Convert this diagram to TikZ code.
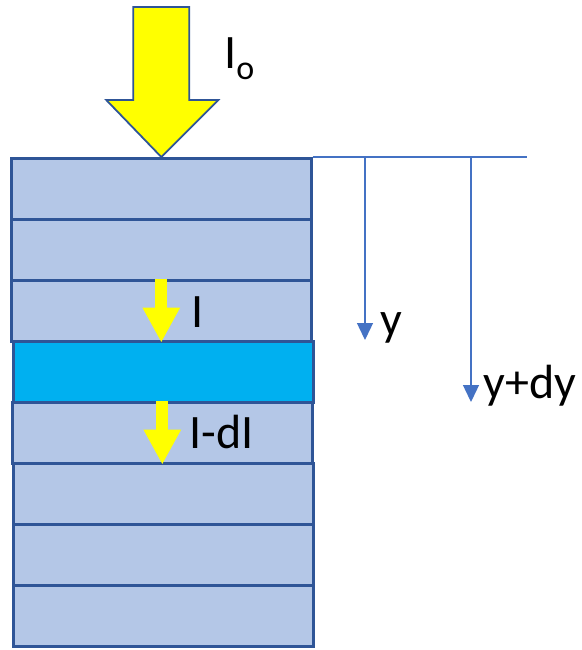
\documentclass[tikz,border=0pt]{standalone}
\usepackage{fontspec}
\setmainfont{Carlito}
\usepackage{tikz}
\usetikzlibrary{arrows.meta,positioning,calc}
\usepackage{xcolor}
\definecolor{slabFill}{HTML}{B4C7E7}
\definecolor{slabEdge}{HTML}{2F5597}
\definecolor{slabHot}{HTML}{00B0F0}
\definecolor{depthLine}{HTML}{4472C4}
\definecolor{beamYellow}{HTML}{FFFF00}
\tikzset{
  slab/.style={draw=slabEdge, fill=slabFill, line width=1.3pt, minimum width=150pt, minimum height=30.5pt, inner sep=0pt, anchor=north west},
  slabhot/.style={slab, fill=slabHot},
  beam/.style={draw=slabEdge, fill=beamYellow, line width=0.9pt, line join=miter},
  ray/.style={-{Triangle[length=17.5pt,width=17.5pt]}, line width=6pt, draw=beamYellow},
  depth/.style={-{Triangle[length=8.5pt,width=8pt]}, line width=0.7pt, draw=depthLine},
  lbl/.style={font=\fontsize{24}{28}\selectfont, inner sep=0pt, anchor=base west}
}
\begin{document}
\begin{tikzpicture}[x=0.5pt,y=-0.5pt]
  \useasboundingbox (0,0) rectangle (582,650);

  % stack of slabs
  \foreach \i/\top/\lx in {1/157/10,2/218/10,3/279/10,5/401/11,6/462/12,7/523/12,8/584/12}{
    \node[slab] (L\i) at (\lx,\top) {};
  }
  \node[slabhot] (L4) at (12,340) {};

  % incident beam
  \coordinate (tip) at (L1.north);
  \draw[beam] ($(tip)+(-28,-150)$) -- ($(tip)+(28,-150)$) -- ($(tip)+(28,-57)$) -- ($(tip)+(57,-57)$)
    -- (tip) -- ($(tip)+(-55,-57)$) -- ($(tip)+(-28,-57)$) -- cycle;
  \node[lbl] (Io) at (224,68) {I\raisebox{-5.5pt}{\fontsize{17}{17}\selectfont o}};

  % attenuated beam through the layers
  \draw[ray] (L3.north) -- (L3.south);
  \draw[ray] (L5.north) -- (L5.south);
  \node[lbl] (I) at (191,327) {I};
  \node[lbl] (IdI) at (189,448) {I-dI};

  % depth axis
  \coordinate (ref) at (527,157);
  \coordinate (yA) at (365,157);
  \coordinate (yB) at (471,157);
  \coordinate (yAend) at (365,340);
  \coordinate (yBend) at (471,402);
  \draw[depthLine, line width=0.7pt] (L1.north east) -- (ref);
  \draw[depth] (yA) -- (yAend);
  \draw[depth] (yB) -- (yBend);
  \node[lbl] (y) at (380,335) {y};
  \node[lbl] (ydy) at (483,398) {y+dy};
\end{tikzpicture}
\end{document}
